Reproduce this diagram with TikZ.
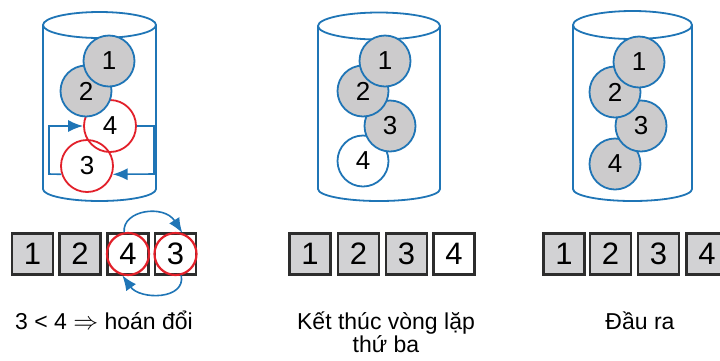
\documentclass[tikz,border=0pt]{standalone}
\usepackage{fontspec}
\setmainfont{Liberation Sans}
\usetikzlibrary{arrows.meta}
\definecolor{cblue}{RGB}{31,117,182}
\definecolor{cred}{RGB}{226,32,42}
\definecolor{cgray}{RGB}{204,203,204}
\definecolor{bgray}{RGB}{210,210,212}
\definecolor{bdark}{RGB}{45,45,45}
\tikzset{
  cylline/.style={draw=cblue, line width=1.8pt},
  ball/.style={circle, draw=cblue, line width=1.8pt, fill=cgray, minimum size=51pt, inner sep=0pt, font=\fontsize{26}{26}\selectfont},
  wball/.style={ball, fill=white},
  rball/.style={circle, draw=cred, line width=1.8pt, minimum size=52pt, inner sep=0pt, font=\fontsize{26}{26}\selectfont},
  cell/.style={draw=bdark, line width=2.4pt, fill=bgray, minimum width=41pt, minimum height=41pt, inner sep=0pt, font=\fontsize{31}{31}\selectfont},
  wcell/.style={cell, fill=white},
  rring/.style={circle, draw=cred, line width=2.2pt, minimum size=42pt, inner sep=0pt},
  loopline/.style={draw=cblue, line width=1.6pt},
  arr/.style={-{Latex[length=15pt,width=12pt]}},
  caption/.style={font=\fontsize{23}{23}\selectfont, align=center},
}
\newcommand{\mycyl}[4]{% left, right, top-center-y, ry
  \draw[cylline] ({(#1+#2)/2},#3) ellipse[x radius={(#2-#1)/2}, y radius=#4];
  \draw[cylline] (#1,#3) -- (#1,189) arc[start angle=180, end angle=0, x radius={(#2-#1)/2}, y radius=12] -- (#2,#3);
}
\begin{document}
\begin{tikzpicture}[x=1pt,y=-1pt]
\useasboundingbox (0,0) rectangle (720,360);
% ---- cylinders
\mycyl{43}{156}{25}{13}
\mycyl{318}{440}{26}{13.5}
\mycyl{573}{692}{25}{14}
% ---- cylinder 1
\node[rball] (a3) at (87,166) {3};
\node[rball] (a4) at (110,126) {4};
\node[ball] (a2) at (86,91) {2};
\node[ball] (a1) at (109,61) {1};
\coordinate (lb) at (49,174);
\coordinate (rb) at (154,174);
\draw[loopline, arr] (a3.198) -- (lb) |- (a4.west);
\draw[loopline, arr] (a4.east) -| (rb) -- (a3.-18);
% ---- cylinder 2
\node[wball] (b4) at (363,161) {4};
\node[ball] (b3) at (390,126) {3};
\node[ball] (b2) at (363,91) {2};
\node[ball] (b1) at (385,61) {1};
% ---- cylinder 3
\node[ball] (c4) at (615,164) {4};
\node[ball] (c3) at (641,126) {3};
\node[ball] (c2) at (615,92) {2};
\node[ball] (c1) at (639,62) {1};
% ---- row 1
\node[cell] (p1) at (32.5,254) {1};
\node[cell] (p2) at (80,254) {2};
\node[wcell] (p3) at (128,254) {4};
\node[wcell] (p4) at (175.5,254) {3};
\node[rring] (q3) at (p3) {};
\node[rring] (q4) at (p4) {};
\draw[loopline, arr] (q3.100) .. controls (122,210) and (164,204) .. (q4.72);
\draw[loopline, arr] (q4.-75) .. controls (186,300) and (140,300) .. (q3.-105);
% ---- row 2
\node[cell] (m1) at (310,254) {1};
\node[cell] (m2) at (358.5,254) {2};
\node[cell] (m3) at (406.5,254) {3};
\node[wcell] (m4) at (454,254) {4};
% ---- row 3
\node[cell] (n1) at (564,254) {1};
\node[cell] (n2) at (610.5,254) {2};
\node[cell] (n3) at (658.5,254) {3};
\node[cell] (n4) at (707,254) {4};
% ---- captions
\node[caption, anchor=base] (t1) at (104,329) {3 < 4 $\Rightarrow$ hoán đổi};
\node[caption, anchor=base] (t2) at (386,329) {Kết thúc vòng lặp};
\node[caption, anchor=base] (t2b) at (386,352) {thứ ba};
\node[caption, anchor=base] (t3) at (640,329) {Đầu ra};
\end{tikzpicture}
\end{document}
